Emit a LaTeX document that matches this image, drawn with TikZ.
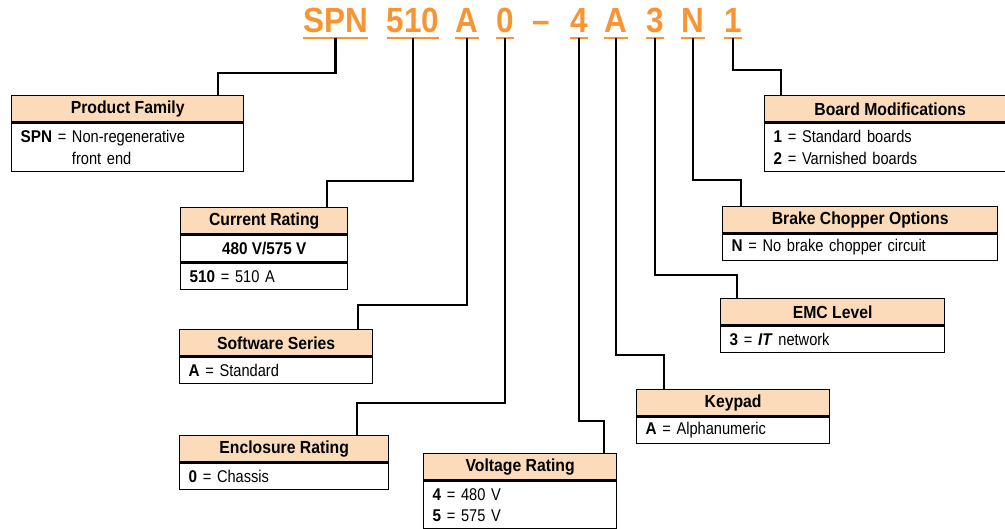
\documentclass[tikz,border=0pt]{standalone}
\usepackage{fontspec}
\setmainfont{Liberation Sans}[FakeStretch=0.86, WordSpace=0.7, BoldFeatures={FakeStretch=0.9}, BoldItalicFeatures={FakeStretch=0.9}]
\newfontfamily\hfont{Liberation Sans}[FakeStretch=0.9]
\definecolor{peach}{RGB}{252,219,186}
\definecolor{codeorange}{RGB}{247,148,51}
\tikzset{
 hdr/.style={draw, fill=peach, line width=1.3pt, anchor=north west, minimum height=26.5pt, inner sep=0pt, font=\hfont\bfseries\fontsize{17.5}{20}\selectfont},
 rowbox/.style={draw, line width=1.3pt, anchor=north west, minimum height=26.5pt, inner sep=0pt, font=\hfont\bfseries\fontsize{17}{20}\selectfont},
 bodybox/.style={draw, line width=1.3pt, anchor=north west, inner xsep=9pt, inner ysep=0pt, align=left, font=\fontsize{17}{21.5}\selectfont},
 code/.style={anchor=base, inner sep=0pt, text=codeorange, font=\hfont\bfseries\fontsize{35}{35}\selectfont},
 uline/.style={draw=codeorange, line width=2pt},
 conn/.style={line width=2.4pt},
}
\begin{document}
\begin{tikzpicture}[x=1pt,y=-1pt]
\useasboundingbox (0,0) rectangle (1005,529);
% code letters
\node[code] (c1) at (335.5,33) {SPN};
\node[code] (c2) at (413,33) {510};
\node[code] (c3) at (467,33) {A};
\node[code] (c4) at (505,33) {0};
\node[code] (cd) at (541.5,33) {–};
\node[code] (c5) at (579,33) {4};
\node[code] (c6) at (616,33) {A};
\node[code] (c7) at (655,33) {3};
\node[code] (c8) at (693,33) {N};
\node[code] (c9) at (733,33) {1};
\foreach \c in {c1,c2,c3,c4,c5,c6,c7,c8,c9}
  \draw[uline] (\c.west |- 0,38) -- (\c.east |- 0,38);

% boxes
\node[hdr, minimum width=232pt] (pfh) at (11,95) {Product Family};
\node[bodybox, text width=214pt, minimum height=48pt] (pfb) at (pfh.south west)
  {\textbf{SPN} = Non-regenerative\\\hphantom{\textbf{SPN} = }front end};

\node[hdr, minimum width=167pt] (crh) at (180,207) {Current Rating};
\node[rowbox, minimum width=167pt] (crm) at (crh.south west) {480 V/575 V};
\node[bodybox, text width=149pt, minimum height=26.5pt] (crb) at (crm.south west)
  {\textbf{510} = 510 A};

\node[hdr, minimum width=193pt] (ssh) at (179,329) {Software Series};
\node[bodybox, text width=175pt, minimum height=26pt] (ssb) at (ssh.south west)
  {\textbf{A} = Standard};

\node[hdr, minimum width=209pt] (erh) at (179,435) {Enclosure Rating};
\node[bodybox, text width=191pt, minimum height=26pt] (erb) at (erh.south west)
  {\textbf{0} = Chassis};

\node[hdr, minimum width=193pt] (vrh) at (423,453) {Voltage Rating};
\node[bodybox, text width=175pt, minimum height=47pt] (vrb) at (vrh.south west)
  {\textbf{4} = 480 V\\\textbf{5} = 575 V};

\node[hdr, minimum width=193pt] (kph) at (636,389) {Keypad};
\node[bodybox, text width=175pt, minimum height=26pt] (kpb) at (kph.south west)
  {\textbf{A} = Alphanumeric};

\node[hdr, minimum width=224pt] (emh) at (720,298) {EMC Level};
\node[bodybox, text width=206pt, minimum height=26pt] (emb) at (emh.south west)
  {\textbf{3} = \textbf{\textit{IT}} network};

\node[hdr, minimum width=275pt] (bch) at (722,206) {Brake Chopper Options};
\node[bodybox, text width=257pt, minimum height=26pt] (bcb) at (bch.south west)
  {\textbf{N} = No brake chopper circuit};

\node[hdr, minimum width=251pt] (bmh) at (764,95) {Board Modifications};
\node[bodybox, text width=233pt, minimum height=48pt] (bmb) at (bmh.south west)
  {\textbf{1} = Standard boards\\\textbf{2} = Varnished boards};

% connectors
\draw[conn] (c1.south |- 0,38) |- (218,73) -- (218,0 |- pfh.north);
\draw[conn] (c2.south |- 0,38) |- (327,181) -- (327,0 |- crh.north);
\draw[conn] (c3.south |- 0,38) |- (358,305) -- (358,0 |- ssh.north);
\draw[conn] (c4.south |- 0,38) |- (357,403) -- (357,0 |- erh.north);
\draw[conn] (c5.south |- 0,38) |- (604,421) -- (604,0 |- vrh.north);
\draw[conn] (c6.south |- 0,38) |- (664,355) -- (664,0 |- kph.north);
\draw[conn] (c7.south |- 0,38) |- (737,275) -- (737,0 |- emh.north);
\draw[conn] (c8.south |- 0,38) |- (741,180) -- (741,0 |- bch.north);
\draw[conn] (c9.south |- 0,38) |- (781,70) -- (781,0 |- bmh.north);
\end{tikzpicture}
\end{document}
